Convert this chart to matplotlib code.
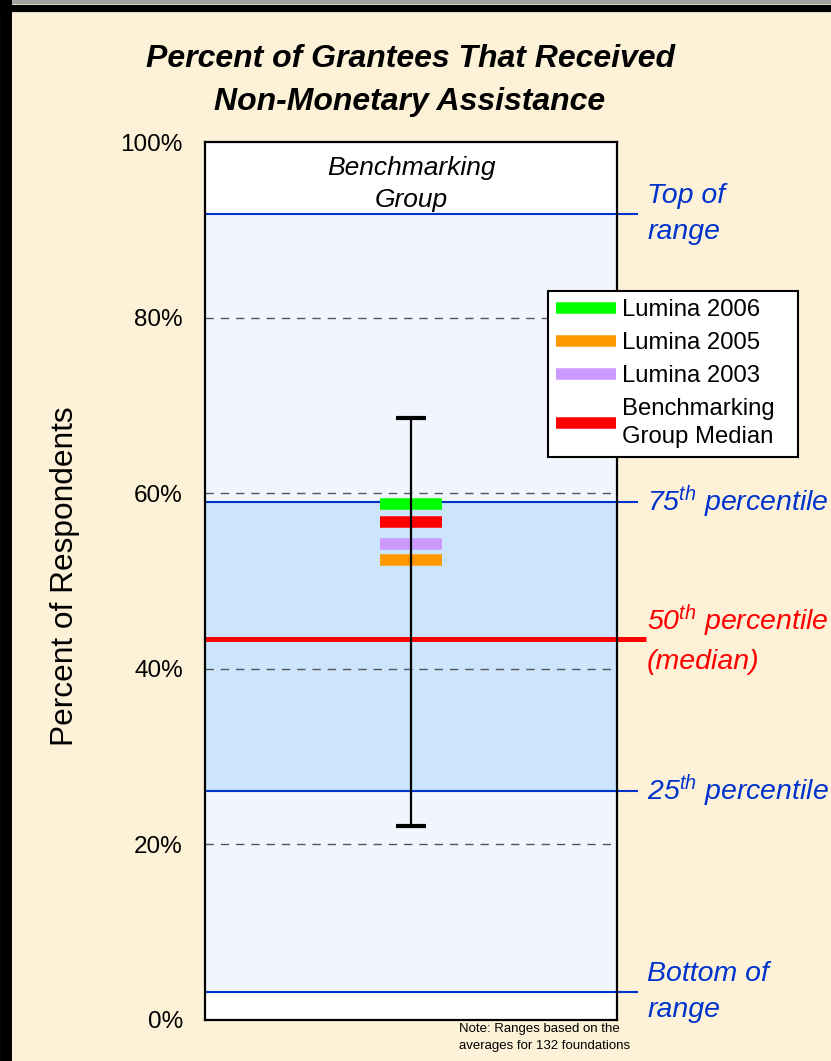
import matplotlib
matplotlib.use("Agg")
import matplotlib.pyplot as plt
from matplotlib.lines import Line2D

plt.rcParams['font.family'] = ['Liberation Sans', 'DejaVu Sans']
plt.rcParams['mathtext.fontset'] = 'custom'
plt.rcParams['mathtext.rm'] = 'Liberation Sans'
plt.rcParams['mathtext.it'] = 'Liberation Sans:italic'

# benchmarking group range (percent)
range_bottom = 3.2
p25 = 26.1
median = 43.4
p75 = 59.0
range_top = 91.8
whisker_low = 22.1
whisker_high = 68.6

# Lumina markers
series_labels = ['Lumina 2006', 'Lumina 2005', 'Lumina 2003', 'Benchmarking\nGroup Median']
series_values = [58.8, 52.4, 54.2, 56.7]
series_colors = ['#00FF00', '#FF9900', '#CC99FF', '#FF0000']

y_ticks = [0, 20, 40, 60, 80, 100]
y_tick_labels = ['0%', '20%', '40%', '60%', '80%', '100%']

W, H = 831, 1061
bg = '#FDF2D8'
blue = '#0033CC'


def fx(x):
    return x / W


def fy(y):
    return 1 - y / H


fig = plt.figure(figsize=(W / 100, H / 100), dpi=100, facecolor=bg)
ax = fig.add_axes([fx(205), fy(1020), 412 / W, 878 / H])
ax.set_facecolor('white')
ax.set_xlim(-1, 1)
ax.set_ylim(0, 100)

# bands
ax.axhspan(range_bottom, range_top, color='#F1F6FE', zorder=0.5)
ax.axhspan(p25, p75, color='#CCE4FC', zorder=0.6)

# dashed grid
for v in y_ticks[1:-1]:
    ax.axhline(v, color='#555555', lw=1.0, ls=(0, (6, 5)), zorder=1)

# range lines running past the axes
yt = ax.get_yaxis_transform()
for v in [range_top, p75, p25, range_bottom]:
    ax.plot([0, 1.05], [v, v], transform=yt, color=blue, lw=1.5,
            clip_on=False, zorder=3, solid_capstyle='butt')
ax.plot([0, 1.07], [median, median], transform=yt, color='#FF0000', lw=3.6,
        clip_on=False, zorder=3, solid_capstyle='butt')

# Lumina markers
for lab, v, c in zip(series_labels, series_values, series_colors):
    ax.hlines(v, -0.15, 0.15, colors=c, lw=8.3, zorder=4, label=lab,
              capstyle='butt')

# whisker
ax.vlines(0, whisker_low, whisker_high, colors='black', lw=1.6, zorder=5)
ax.hlines([whisker_low, whisker_high], -0.073, 0.073, colors='black', lw=3,
          zorder=5)

ax.set_xticks([])
ax.set_yticks(y_ticks)
ax.set_yticklabels(y_tick_labels, fontsize=17.5)
ax.tick_params(axis='y', length=0, pad=16)
for s in ax.spines.values():
    s.set_linewidth(1.6)
    s.set_color('black')
    s.set_zorder(6)

# right side labels
lab_kw = dict(transform=yt, style='italic', fontsize=20.5, va='center',
              ha='left', linespacing=1.5)
ax.text(1.073, range_top, 'Top of\nrange', color=blue, **lab_kw)
ax.text(1.073, p75, '75$^{th}$ percentile', color=blue, **lab_kw)
ax.text(1.073, median, '50$^{th}$ percentile\n(median)', color='#FF0000',
        **lab_kw)
ax.text(1.073, p25, '25$^{th}$ percentile', color=blue, **lab_kw)
ax.text(1.073, range_bottom, 'Bottom of\nrange', color=blue, **lab_kw)

# titles and labels
fig.text(fx(410), fy(59), 'Percent of Grantees That Received', ha='center',
         va='center', fontsize=23, fontweight='bold', style='italic')
fig.text(fx(410), fy(102), 'Non-Monetary Assistance', ha='center',
         va='center', fontsize=23, fontweight='bold', style='italic')
fig.text(fx(411), fy(168), 'Benchmarking', ha='center', va='center',
         fontsize=19, style='italic')
fig.text(fx(411), fy(200), 'Group', ha='center', va='center',
         fontsize=19, style='italic')
fig.text(fx(65), fy(576), 'Percent of Respondents', rotation=90,
         ha='center', va='center', fontsize=22.8)
fig.text(fx(459), fy(1029), 'Note: Ranges based on the', ha='left',
         va='center', fontsize=9.5)
fig.text(fx(459), fy(1046), 'averages for 132 foundations', ha='left',
         va='center', fontsize=9.5)

leg = ax.legend(loc='upper left',
                bbox_to_anchor=(fx(548), fy(448), 250 / W, 157 / H),
                bbox_transform=fig.transFigure, borderaxespad=0,
                mode='expand', fontsize=17.2, frameon=True, fancybox=False,
                framealpha=1, edgecolor='black', handlelength=2.5,
                handletextpad=0.25, borderpad=0.35, labelspacing=0.45)
leg.get_frame().set_linewidth(1.5)
leg.get_texts()[3].set_linespacing(1.4)
leg.set_zorder(10)

# figure border
fig.add_artist(Line2D([0, 1], [fy(2), fy(2)], transform=fig.transFigure,
                      color='#A0A0A0', lw=3))
fig.add_artist(Line2D([0, 1], [fy(7.5), fy(7.5)], transform=fig.transFigure,
                      color='black', lw=5.2))
fig.add_artist(Line2D([fx(6), fx(6)], [0, fy(4)], transform=fig.transFigure,
                      color='black', lw=8.6))

fig.savefig('out.png', dpi=100, facecolor=bg)
